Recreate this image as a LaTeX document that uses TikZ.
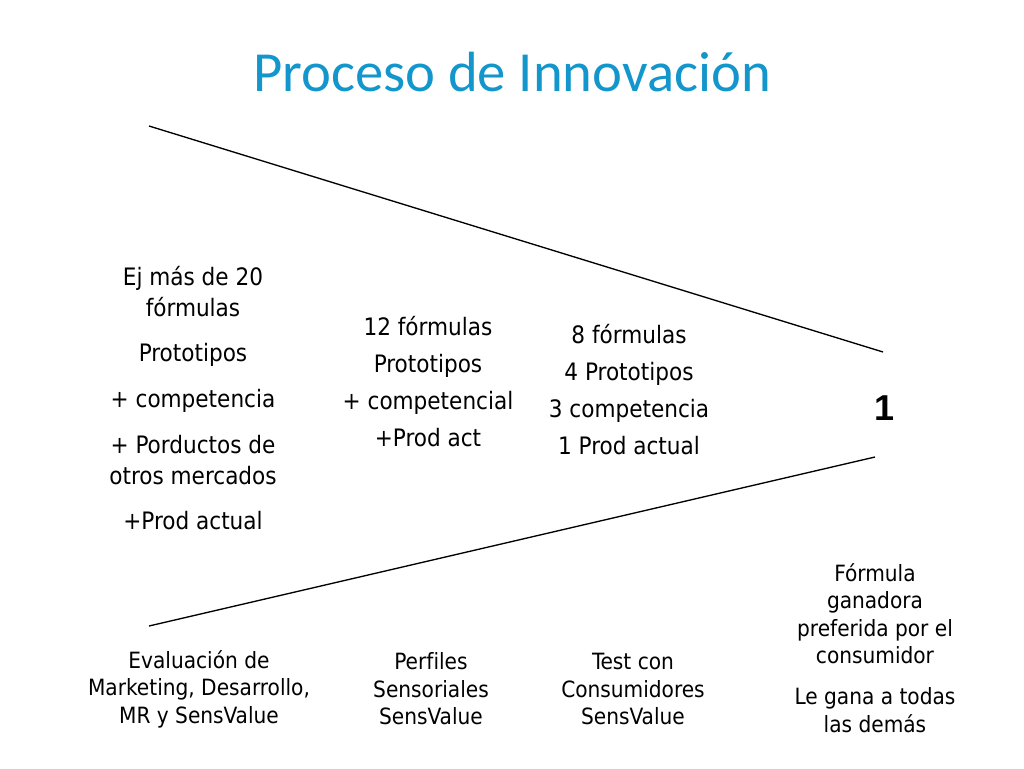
\documentclass[tikz,border=0pt]{standalone}
\usepackage{fontspec}
\setmainfont[Ligatures=NoCommon]{DejaVu Sans Condensed}
\newfontfamily\titlefont{Carlito}
\newfontfamily\numfont{Liberation Sans}
\usepackage{tikz}
\definecolor{titleblue}{RGB}{18,150,204}

\begin{document}
\begin{tikzpicture}[x=0.75pt,y=-0.75pt,
		bigtext/.style={align=center,font=\fontsize{18}{23.25}\selectfont},
		smalltext/.style={align=center,font=\fontsize{16.8}{20.6}\selectfont}]
		\useasboundingbox (0,0) rectangle (1024,768);
		
		\node[titleblue, font=\titlefont\fontsize{42.5}{50}\selectfont] (title) at (512,72) {Proceso de Innovaci\'on};
		
		\coordinate (tl) at (149,126);
		\coordinate (tr) at (883,352);
		\coordinate (bl) at (149,626);
		\coordinate (br) at (875,457);
		\draw[line width=1pt] (tl) -- (tr);
		\draw[line width=1pt] (bl) -- (br);
		
		\node[bigtext] (ideas) at (193,398) {Ej m\'as de 20\\f\'ormulas\\[11pt]Prototipos\\[11pt]+ competencia\\[11pt]+ Porductos de\\otros mercados\\[11pt]+Prod actual};
		\node[bigtext] (sens) at (428,382) {12 f\'ormulas\\[4.5pt]Prototipos\\[4.5pt]+ competencial\\[4.5pt]+Prod act};
		\node[bigtext] (test) at (629,390) {8 f\'ormulas\\[4.5pt]4 Prototipos\\[4.5pt]3 competencia\\[4.5pt]1 Prod actual};
		\node[font=\numfont\bfseries\fontsize{27}{30}\selectfont] (uno) at (884,408) {1};
		
		\node[smalltext] (eval) at (199,689) {Evaluaci\'on de\\Marketing, Desarrollo,\\MR y SensValue};
		\node[smalltext] (perf) at (431,689) {Perfiles\\Sensoriales\\SensValue};
		\node[smalltext] (cons) at (633,689) {Test con\\Consumidores\\SensValue};
		\node[smalltext] (win) at (875,648) {F\'ormula\\ganadora\\preferida por el\\consumidor\\[10pt]Le gana a todas\\las dem\'as};
	\end{tikzpicture}
\end{document}
